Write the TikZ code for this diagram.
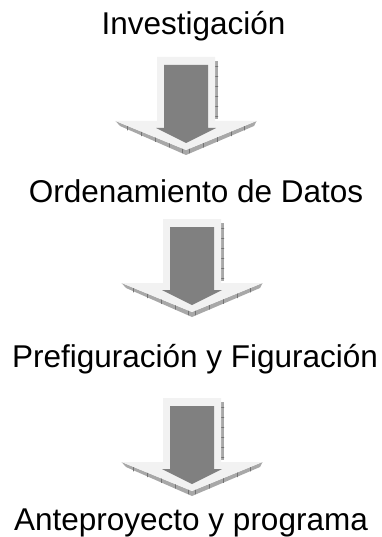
\documentclass[tikz,border=0pt]{standalone}
\usepackage{fontspec}
\setmainfont{Liberation Sans}
\usetikzlibrary{calc}
\definecolor{claro}{HTML}{F2F2F2}
\definecolor{oscuro}{HTML}{808080}
\definecolor{bisel}{HTML}{A8A8A8}
\tikzset{
  texto/.style={anchor=base, inner sep=0pt, font=\fontsize{31.5}{38}\selectfont},
  marca/.style={draw=black!55, line width=0.4pt}
}
% flecha de bloque: #1 centro x, #2 borde superior
\newcommand{\flechagris}[2]{%
  \fill[bisel] (#1+29,#2+4) rectangle (#1+32,#2+62);
  \foreach \k in {0,...,5} \draw[marca] (#1+29,#2+9+10*\k) -- (#1+32,#2+9+10*\k);
  \fill[bisel] (#1-70.5,#2+64) -- (#1,#2+93) -- (#1+70.5,#2+64)
    -- (#1+68,#2+69) -- (#1,#2+98) -- (#1-66,#2+69) -- cycle;
  \foreach \t in {0.15,0.35,0.55,0.75,0.95} {
    \draw[marca] ($(#1-69,#2+64.5)!\t!(#1,#2+93)$) -- ++(0,4.5);
    \draw[marca] ($(#1+69,#2+64.5)!\t!(#1,#2+93)$) -- ++(0,4.5);
  }
  \fill[claro] (#1-29,#2) -- (#1+29,#2) -- (#1+29,#2+64) -- (#1+70.5,#2+64)
    -- (#1,#2+93) -- (#1-70.5,#2+64) -- (#1-29,#2+64) -- cycle;
  \fill[oscuro] (#1-22,#2+8) -- (#1+22,#2+8) -- (#1+22,#2+71) -- (#1+30,#2+71)
    -- (#1,#2+86) -- (#1-30,#2+71) -- (#1-22,#2+71) -- cycle;
}
\begin{document}
\begin{tikzpicture}[x=1pt, y=-1pt, line join=round, line cap=round]
  \useasboundingbox (0,0) rectangle (382,537);
  %\draw[gray!30] (0,0) grid[step=50] (382,537);
  \node[texto] (t1) at (193.5,35) {Investigación};
  \node[texto] (t2) at (196,202) {Ordenamiento de Datos};
  \node[texto] (t3) at (195,367) {Prefiguración y Figuración};
  \node[texto] (t4) at (191,530) {Anteproyecto y programa};
  \flechagris{186}{57}
  \flechagris{192}{219}
  \flechagris{192}{398}
\end{tikzpicture}
\end{document}
